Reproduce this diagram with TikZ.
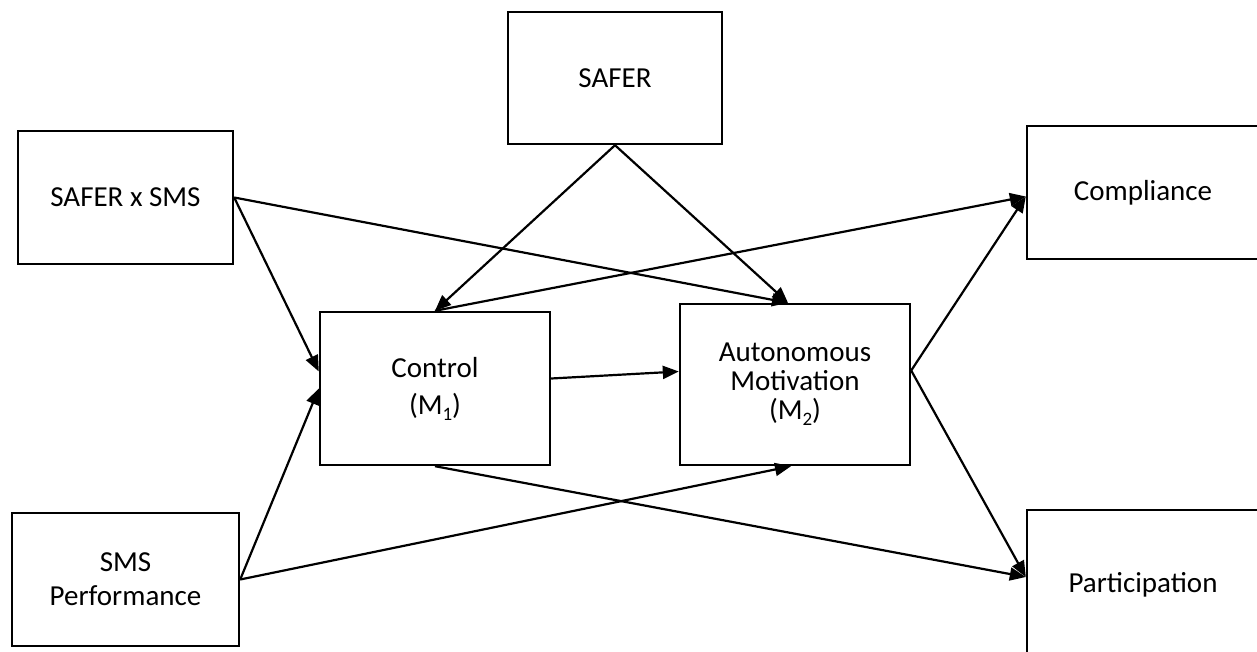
\documentclass[tikz,border=0pt]{standalone}
\usepackage{fontspec}
\setmainfont{Carlito}
\usepackage{tikz}
\usetikzlibrary{positioning}
\usetikzlibrary{arrows.meta}
\tikzstyle{arrow} = [line width=2.2pt,-{Triangle[length=16pt,width=13pt]}]
\tikzstyle{box} = [draw,line width=2.4pt,align=center,inner sep=0pt]

\begin{document}
\begin{tikzpicture}[x=1pt,y=-1pt,font=\fontsize{29}{29}\selectfont]
				\useasboundingbox (0,0) rectangle (1257,652);
				\clip (0,0) rectangle (1257,652);
				%Nodes
				\node (safer) [box,minimum width=214pt,minimum height=132pt] at (615,78) {SAFER};
				\node (sxs) [box,minimum width=215pt,minimum height=133pt] at (125.5,197.5) {SAFER x SMS};
				\node (perf) [box,minimum width=227pt,minimum height=133pt] at (125.5,579.5) {SMS\\[5pt]Performance};
				
				\node (ctrl) [box,minimum width=230pt,minimum height=153pt] at (435,388.5) {Control\\[8pt](M\raisebox{-6pt}{\fontsize{19}{19}\selectfont 1})};
				\node (auto) [box,minimum width=230pt,minimum height=161pt] at (795,384.5) {Autonomous\\Motivation\\(M\raisebox{-6pt}{\fontsize{19}{19}\selectfont 2})};
				
				\node (comp) [box,minimum width=232pt,minimum height=133pt] at (1143,192.5) {Compliance};
				\node (part) [box,minimum width=232pt,minimum height=150pt] at (1143,585) {Participation};
				
				%Lines
				\draw[arrow] (safer.south) -- (ctrl.north);
				\draw[arrow] (safer.south) -- ([xshift=-7pt]auto.north);
				\draw[arrow] (sxs.east) -- ([xshift=-7pt]auto.north);
				\draw[arrow] (sxs.east) -- ([yshift=17pt]ctrl.west);
				\draw[arrow] (perf.east) -- (ctrl.west);
				\draw[arrow] (perf.east) -- ([xshift=-4pt]auto.south);
				\draw[arrow] ([yshift=10pt]ctrl.east) -- ([yshift=13pt]auto.west);
				\draw[arrow] (ctrl.north) -- ([yshift=-4pt]comp.west);
				\draw[arrow] ([yshift=14pt]auto.east) -- ([yshift=-4pt]comp.west);
				\draw[arrow] ([yshift=14pt]auto.east) -- ([yshift=8pt]part.west);
				\draw[arrow] (ctrl.south) -- ([yshift=8pt]part.west);
			\end{tikzpicture}
\end{document}
